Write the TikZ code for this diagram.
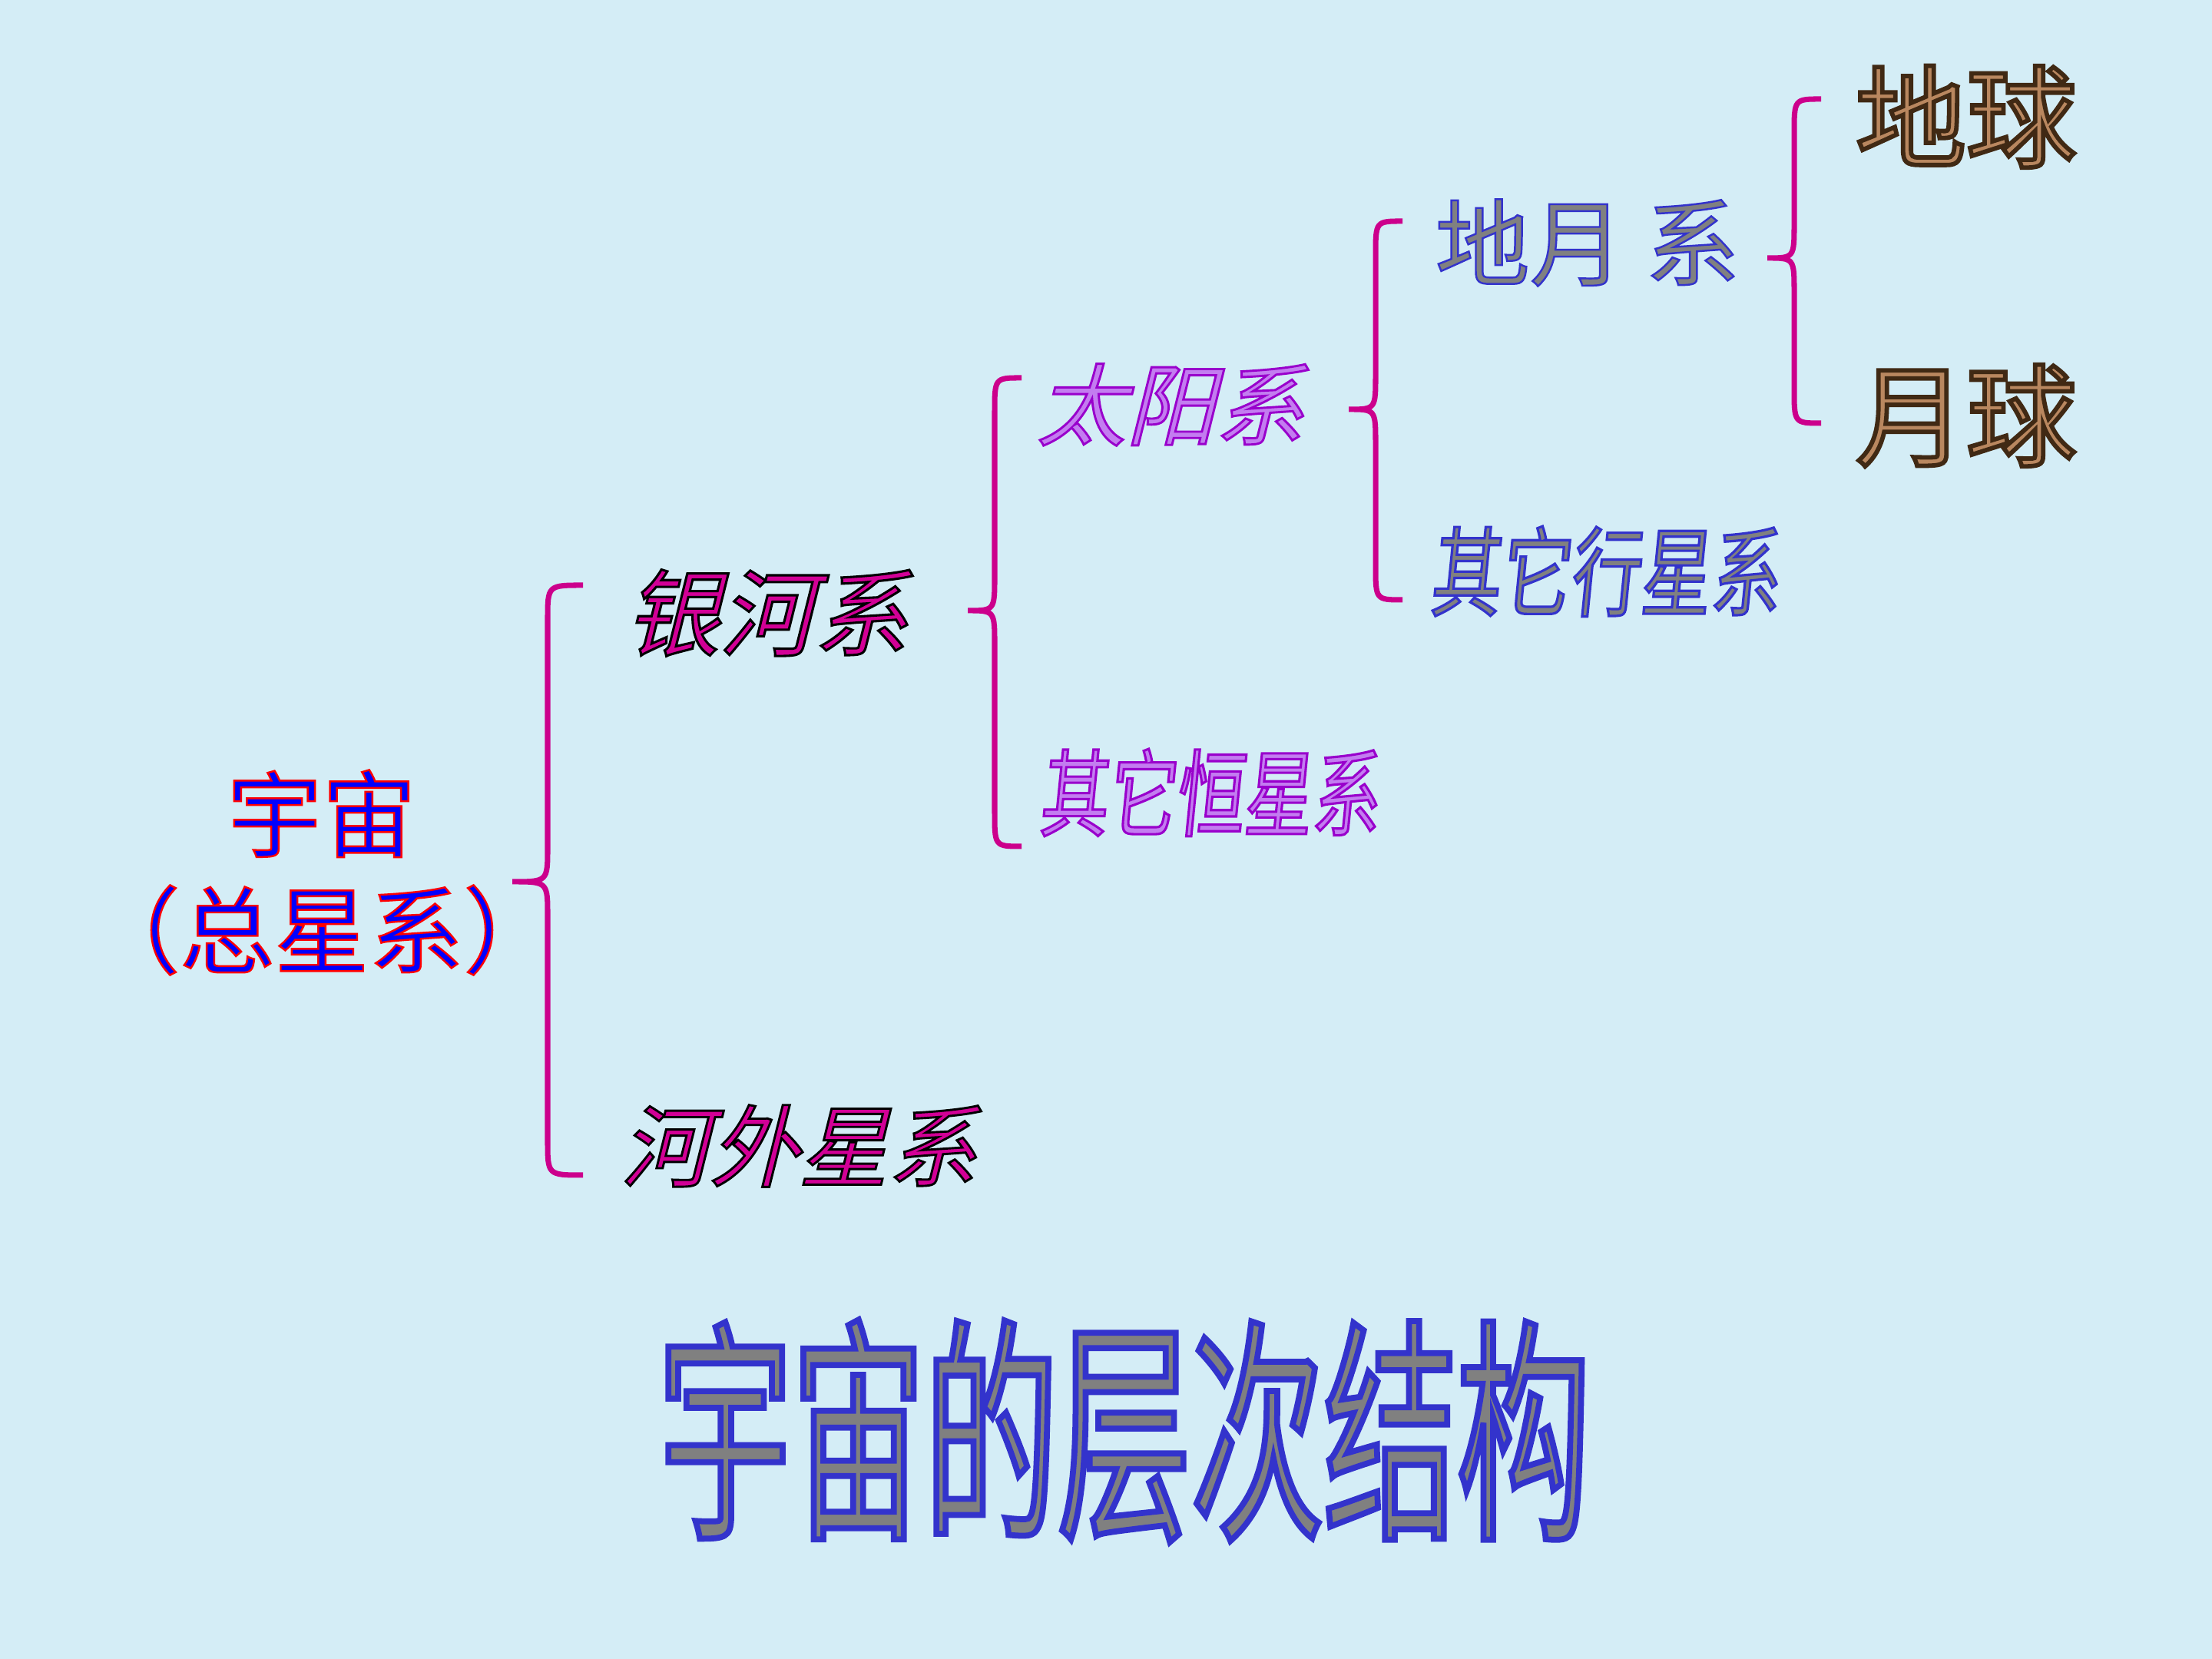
\documentclass[tikz,border=0pt]{standalone}
\usepackage{fontspec}
\usepackage{xcolor}
\usetikzlibrary{positioning}
\newfontfamily\cjkplain[FakeBold=2]{Noto Sans CJK SC}
\newfontfamily\cjkslant[FakeSlant=0.25,FakeBold=2.5]{Noto Sans CJK SC}
\newfontfamily\cjknarrow[FakeStretch=0.72,FakeSlant=0.1,FakeBold=2.5]{Noto Sans CJK SC}
\newfontfamily\cjktitle[FakeStretch=0.56,FakeBold=2.5]{Noto Sans CJK SC}
\newfontfamily\cjkheavy[FakeBold=4]{Noto Sans CJK SC}
\definecolor{bgcol}{RGB}{212,237,246}
\definecolor{bracecol}{RGB}{204,0,140}
\definecolor{galfill}{RGB}{210,0,150}
\definecolor{solfill}{RGB}{195,125,240}
\definecolor{greyfill}{RGB}{128,128,128}
\definecolor{bronze}{RGB}{185,135,95}
% stroke colour of the glyph outlines
\newcommand\outline[1]{\special{pdf:literal direct #1 RG}}
% outline rgb / fill colour / text
\newcommand\fancy[3]{{\color{#2}\outline{#1}#3}}

\begin{document}
\begin{tikzpicture}
	\tikzset{
	  pics/bracket/.style args={#1/#2/#3}{code={
		\draw[bracket line] (2*#3,#1) .. controls (#3,#1) .. (#3,#1-0.45)
		  -- (#3,0.45) .. controls (#3,0) .. (0,0)
		  .. controls (#3,0) .. (#3,-0.45)
		  -- (#3,-#2+0.45) .. controls (#3,-#2) .. (2*#3,-#2);
		},
	  },
	  bracket line/.style={line width=2pt,draw=bracecol},
	  word/.style={inner sep=0pt,anchor=center}
	}
	%BACKGROUND
	\fill[bgcol] (0,0) rectangle (28.8,21.6);
	%WORDS
	\node[word,align=center,font=\cjkplain\fontsize{35}{43}\selectfont] (universe) at (4.19,10.24)
	  {\fancy{1 0 0}{blue}{宇宙}\\\fancy{1 0 0}{blue}{（总星系）}};
	\node[word,font=\cjkslant\fontsize{35}{42}\selectfont] (galaxy) at (9.98,13.62)
	  {\fancy{0 0 0}{galfill}{银河系}};
	\node[word,font=\cjkslant\fontsize{33}{40}\selectfont] (extragal) at (10.40,6.68)
	  {\fancy{0 0 0}{galfill}{河外星系}};
	\node[word,font=\cjkslant\fontsize{33}{40}\selectfont] (solar) at (15.24,16.33)
	  {\fancy{0.6 0 0.8}{solfill}{太阳系}};
	\node[word,font=\cjknarrow\fontsize{35}{42}\selectfont] (otherstars) at (15.74,11.28)
	  {\fancy{0.6 0 0.8}{solfill}{其它恒星系}};
	\node[word,font=\cjkplain\fontsize{35}{42}\selectfont] (earthmoon) at (20.67,18.44)
	  {\fancy{0.2 0.2 0.8}{greyfill}{地月 系}};
	\node[word,font=\cjknarrow\fontsize{36}{43}\selectfont] (planets) at (20.89,14.16)
	  {\fancy{0.2 0.2 0.8}{greyfill}{其它行星系}};
	\node[word,font=\cjkheavy\fontsize{41}{49}\selectfont] (earth) at (25.60,20.08)
	  {\fancy{0.25 0.16 0.08}{bronze}{地球}};
	\node[word,font=\cjkheavy\fontsize{41}{49}\selectfont] (moon) at (25.60,16.19)
	  {\fancy{0.25 0.16 0.08}{bronze}{月球}};
	\node[word,font=\cjktitle\fontsize{88}{100}\selectfont] (title) at (14.64,2.97)
	  {\fancy{0.2 0.2 0.8}{greyfill}{宇宙的层次结构}};
	%BRACKETS
	\coordinate (fork1) at (6.67,10.12);
	\coordinate (fork2) at (12.60,13.65);
	\coordinate (fork3) at (17.56,16.27);
	\coordinate (fork4) at (23.01,18.24);
	\draw (fork1) pic {bracket={3.86/3.82/0.46}};
	\draw (fork2) pic {bracket={3.03/3.07/0.35}};
	\draw (fork3) pic {bracket={2.45/2.48/0.35}};
	\draw (fork4) pic {bracket={2.07/2.15/0.35}};
\end{tikzpicture}
\end{document}
